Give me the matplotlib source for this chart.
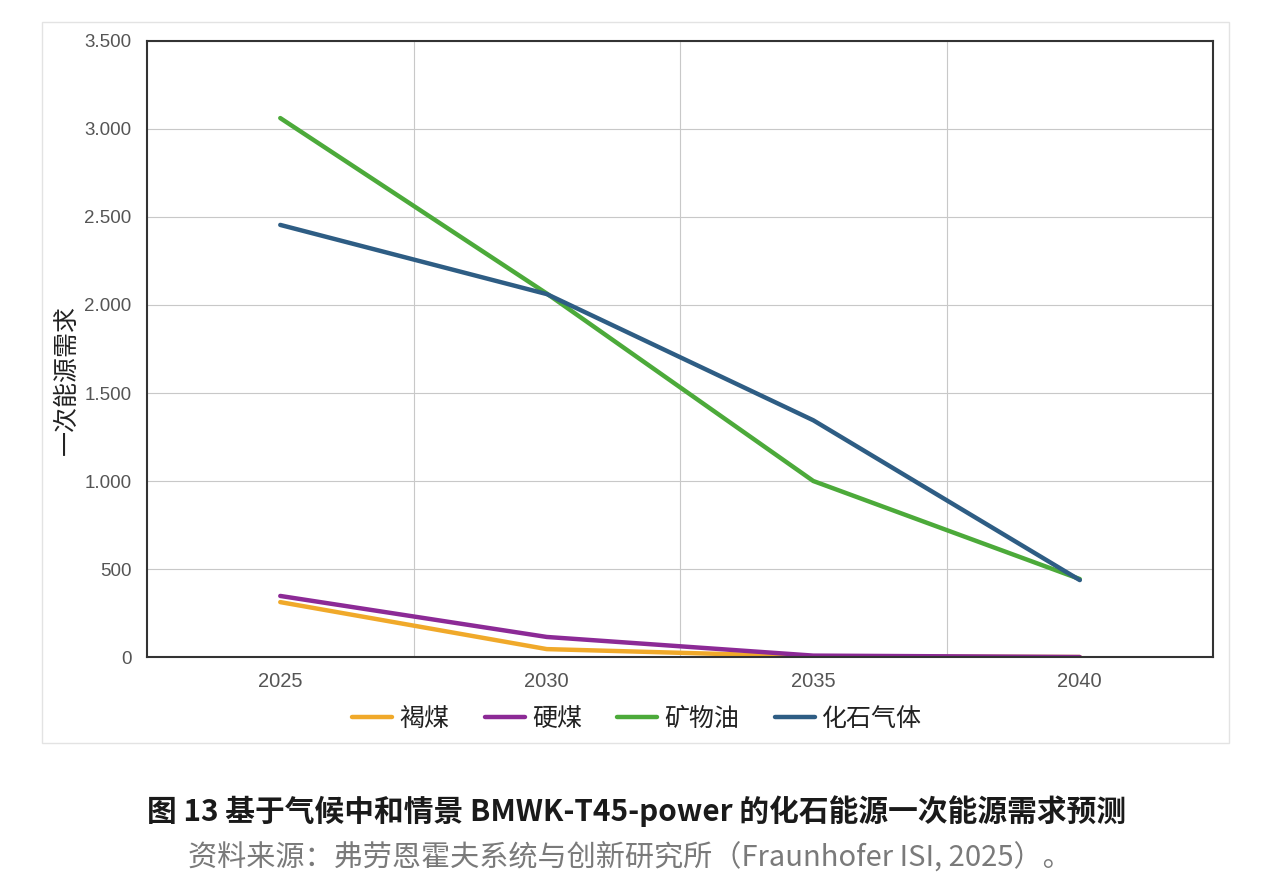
import matplotlib
matplotlib.use("Agg")
import matplotlib.pyplot as plt
from matplotlib.patches import Rectangle
from matplotlib.ticker import FuncFormatter, MultipleLocator

plt.rcParams['font.family'] = ['Noto Sans CJK SC', 'DejaVu Sans']

# 数据
years = ['2025', '2030', '2035', '2040']
lignite = [312, 45, 3, 0]          # 褐煤
hard_coal = [347, 114, 8, 0]       # 硬煤
mineral_oil = [3062, 2065, 1000, 443]  # 矿物油
fossil_gas = [2455, 2062, 1345, 437]   # 化石气体

series_names = ['褐煤', '硬煤', '矿物油', '化石气体']
series_colors = ['#f0a92a', '#8c2a96', '#4caa3a', '#2e5d84']

fig = plt.figure(figsize=(12.64, 8.85), dpi=100)

# 外框
fig.patches.append(Rectangle((0.0332, 0.1605), 0.939, 0.8147, transform=fig.transFigure,
                             fill=False, edgecolor='#e3e3e3', linewidth=1.0))

ax = fig.add_axes([0.1163, 0.2576, 0.8434, 0.6961])
x = list(range(len(years)))
for vals, name, col in zip([lignite, hard_coal, mineral_oil, fossil_gas], series_names, series_colors):
    ax.plot(x, vals, color=col, linewidth=3.2, label=name, solid_capstyle='round')

ax.set_xlim(-0.5, len(years) - 0.5)
ax.set_ylim(0, 3500)
ax.yaxis.set_major_locator(MultipleLocator(500))
ax.yaxis.set_major_formatter(FuncFormatter(lambda v, p: f"{int(v):,}".replace(',', '.')))
ax.set_xticks(x)
ax.set_xticklabels(years)
ax.set_xticks([0.5, 1.5, 2.5], minor=True)
ax.tick_params(which='both', length=0)
ax.tick_params(axis='y', pad=11, labelsize=13.5, labelcolor='#555555')
ax.tick_params(axis='x', pad=11, labelsize=14.5, labelcolor='#555555')
for lab in ax.get_xticklabels() + ax.get_yticklabels():
    lab.set_family('Liberation Sans')
ax.grid(axis='y', which='major', color='#c8c8c8', linewidth=0.8)
ax.grid(axis='x', which='minor', color='#c8c8c8', linewidth=0.8)
ax.grid(axis='x', which='major', visible=False)
ax.set_axisbelow(True)
for s in ax.spines.values():
    s.set_color('#333333')
    s.set_linewidth(1.5)

fig.text(0.053, 0.571, '一次能源需求', rotation=90, ha='center', va='center',
         fontsize=18, color='#222222')

fig.legend(loc='center', bbox_to_anchor=(0.504, 0.188), ncol=4, frameon=False,
           fontsize=18, handlelength=1.6, handletextpad=0.3, columnspacing=1.4,
           labelcolor='#222222')

fig.text(0.504, 0.083, '图 13 基于气候中和情景 BMWK-T45-power 的化石能源一次能源需求预测',
         ha='center', va='center', fontsize=21.4, fontweight='bold', color='#1a1a1a')
fig.text(0.498, 0.031, '资料来源：弗劳恩霍夫系统与创新研究所（Fraunhofer ISI, 2025）。',
         ha='center', va='center', fontsize=21, color='#7a7a7a')

fig.savefig('out.png', dpi=100)
